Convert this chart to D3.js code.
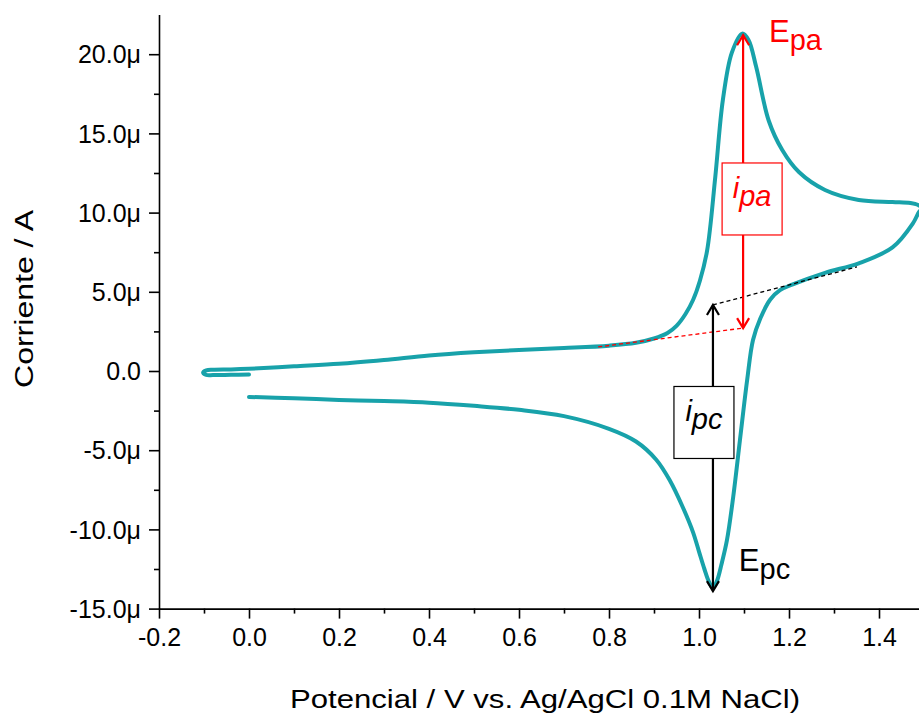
<!DOCTYPE html>
<html>
<head>
<meta charset="utf-8">
<script src="https://cdn.jsdelivr.net/npm/d3@7"></script>
<style>
  body { margin: 0; background: #fff; }
  text { font-family: "Liberation Sans", Arial, sans-serif; }
</style>
</head>
<body>
<script>
// Cyclic voltammogram (potential in V, current in µA), in scan order
var potential = [0.0, -0.04, -0.08, -0.095, -0.102, -0.095, -0.08, -0.04, 0.0,
  0.1, 0.2, 0.3, 0.4, 0.5, 0.6, 0.7, 0.8, 0.86, 0.9, 0.93, 0.95, 0.97, 0.987,
  1.002, 1.018, 1.036, 1.053, 1.073, 1.096, 1.11, 1.127, 1.155, 1.185, 1.222,
  1.28, 1.355, 1.43, 1.47, 1.489, 1.495, 1.489, 1.475, 1.43, 1.355, 1.28, 1.207, 1.18,
  1.158, 1.136, 1.12, 1.107, 1.091, 1.076, 1.062, 1.05, 1.04, 1.031, 1.022, 1.012,
  1.0, 0.987, 0.964, 0.935, 0.905, 0.86, 0.8, 0.7, 0.6, 0.5, 0.4, 0.3, 0.2,
  0.1, 0.0];
var current = [-0.22, -0.24, -0.26, -0.25, -0.1, 0.04, 0.08, 0.1, 0.14,
  0.3, 0.46, 0.7, 0.98, 1.18, 1.33, 1.45, 1.6, 1.78, 2.05, 2.4, 2.85, 3.6, 4.5,
  5.7, 7.6, 12.2, 17.1, 20.1, 21.3, 20.9, 19.2, 15.8, 13.95, 12.56,
  11.43, 10.8, 10.67, 10.6, 10.45, 10.25, 10.05, 9.3, 7.8, 6.8, 6.2, 5.45, 5.1,
  4.5, 3.3, 1.96, -0.57, -4.36, -7.95, -10.7, -12.2, -13.25, -13.7, -13.3, -12.5,
  -11.4, -10.2, -8.6, -6.9, -5.6, -4.45, -3.65, -2.85, -2.45, -2.2, -2.0, -1.9, -1.83,
  -1.72, -1.64];

// axis ticks
var xTicks = [-0.2, 0.0, 0.2, 0.4, 0.6, 0.8, 1.0, 1.2, 1.4];
var xTickLabels = ["-0.2", "0.0", "0.2", "0.4", "0.6", "0.8", "1.0", "1.2", "1.4"];
var xMinor = [-0.1, 0.1, 0.3, 0.5, 0.7, 0.9, 1.1, 1.3, 1.5];
var yTicks = [-15, -10, -5, 0, 5, 10, 15, 20];
var yTickLabels = ["-15.0μ", "-10.0μ", "-5.0μ", "0.0", "5.0μ", "10.0μ", "15.0μ", "20.0μ"];
var yMinor = [-12.5, -7.5, -2.5, 2.5, 7.5, 12.5, 17.5];

// peak annotations (V, µA)
var anodic = { E: 1.098, top: 21.2, base: 2.71, baseStart: [0.776, 1.52] };
var cathodic = { E: 1.031, bottom: -13.9, base: 4.17, baseEnd: [1.351, 6.57] };

var w = 919, h = 715;
var teal = "#18a2aa";

var svg = d3.select("body").append("svg")
    .attr("width", w)
    .attr("height", h);

var x = d3.scaleLinear().domain([-0.2, 1.5]).range([159, 924]);
var y = d3.scaleLinear().domain([-15, 22.5]).range([608.6, 14.6]);

// y axis
var yAxis = svg.append("g")
    .attr("transform", "translate(159,0)")
    .call(d3.axisLeft(y).tickValues(yTicks).tickSize(10).tickSizeOuter(0)
        .tickFormat(function(d, i){ return yTickLabels[i]; }));
yAxis.selectAll("text").attr("x", -18).style("font-size", "25px").attr("fill", "#000").attr("dy", "0.35em");
svg.append("g")
    .attr("transform", "translate(159,0)")
    .call(d3.axisLeft(y).tickValues(yMinor).tickSize(5).tickFormat(""))
    .select(".domain").remove();

// x axis
var xAxis = svg.append("g")
    .attr("transform", "translate(0,608.6)")
    .call(d3.axisBottom(x).tickValues(xTicks).tickSize(10).tickSizeOuter(0)
        .tickFormat(function(d, i){ return xTickLabels[i]; }));
xAxis.selectAll("text").attr("y", 20).style("font-size", "25px").attr("fill", "#000");
svg.append("g")
    .attr("transform", "translate(0,608.6)")
    .call(d3.axisBottom(x).tickValues(xMinor).tickSize(5).tickFormat(""))
    .select(".domain").remove();

svg.selectAll(".domain, .tick line").attr("stroke", "#000").attr("stroke-width", 1.6);

// axis titles
svg.append("text")
    .attr("x", 545).attr("y", 708)
    .attr("text-anchor", "middle")
    .attr("textLength", 510).attr("lengthAdjust", "spacingAndGlyphs")
    .style("font-size", "25px")
    .text("Potencial / V vs. Ag/AgCl 0.1M NaCl)");

svg.append("text")
    .attr("transform", "translate(33,299) rotate(-90)")
    .attr("text-anchor", "middle")
    .attr("textLength", 178).attr("lengthAdjust", "spacingAndGlyphs")
    .style("font-size", "25px")
    .text("Corriente / A");

// CV curve
var line = d3.line()
    .x(function(d){ return x(d[0]); })
    .y(function(d){ return y(d[1]); })
    .curve(d3.curveCatmullRom.alpha(0.5));

svg.append("path")
    .datum(d3.zip(potential, current))
    .attr("d", line)
    .attr("fill", "none")
    .attr("stroke", teal)
    .attr("stroke-width", 4)
    .attr("stroke-linejoin", "round")
    .attr("stroke-linecap", "round");

// baselines
svg.append("line")
    .attr("x1", x(anodic.baseStart[0])).attr("y1", y(anodic.baseStart[1]))
    .attr("x2", x(anodic.E)).attr("y2", y(anodic.base))
    .attr("stroke", "#f00").attr("stroke-width", 1.3).attr("stroke-dasharray", "4,3");
svg.append("line")
    .attr("x1", x(cathodic.E)).attr("y1", y(cathodic.base))
    .attr("x2", x(cathodic.baseEnd[0])).attr("y2", y(cathodic.baseEnd[1]))
    .attr("stroke", "#000").attr("stroke-width", 1.3).attr("stroke-dasharray", "4,3");

// double arrows
function doubleArrow(px, y1, y2, color) {
  var g = svg.append("g").attr("stroke", color).attr("stroke-width", 2.2).attr("fill", "none");
  g.append("line").attr("x1", px).attr("x2", px).attr("y1", y1).attr("y2", y2);
  g.append("path").attr("d", "M" + (px - 6) + "," + (y1 + 10) + "L" + px + "," + y1 + "L" + (px + 6) + "," + (y1 + 10));
  g.append("path").attr("d", "M" + (px - 6) + "," + (y2 - 10) + "L" + px + "," + y2 + "L" + (px + 6) + "," + (y2 - 10));
}
doubleArrow(x(anodic.E), y(anodic.top), y(anodic.base), "#f00");
doubleArrow(x(cathodic.E), y(cathodic.base), y(cathodic.bottom), "#000");

// boxed labels
function boxLabel(cx, cy, sub, color) {
  svg.append("rect")
      .attr("x", cx - 30).attr("y", cy - 36)
      .attr("width", 60).attr("height", 72)
      .attr("fill", "#fff").attr("stroke", color).attr("stroke-width", 1.2);
  var t = svg.append("text")
      .attr("x", cx).attr("y", cy - 1)
      .attr("text-anchor", "middle")
      .attr("fill", color)
      .style("font-size", "29px").style("font-style", "italic");
  t.append("tspan").text("i");
  t.append("tspan").attr("dy", 8).text(sub);
}
boxLabel(x(1.118), y(10.86), "pa", "#f00");
boxLabel(x(1.011), y(-3.25), "pc", "#000");

// peak potential labels
function peakLabel(px, py, sub, color) {
  var t = svg.append("text")
      .attr("x", px).attr("y", py)
      .attr("fill", color)
      .style("font-size", "31px");
  t.append("tspan").text("E");
  t.append("tspan").attr("dy", 8).style("font-size", "29px").text(sub);
}
peakLabel(x(1.16) - 2, y(20.8), "pa", "#f00");
peakLabel(x(1.093) - 2, y(-12.6), "pc", "#000");
</script>
</body>
</html>
